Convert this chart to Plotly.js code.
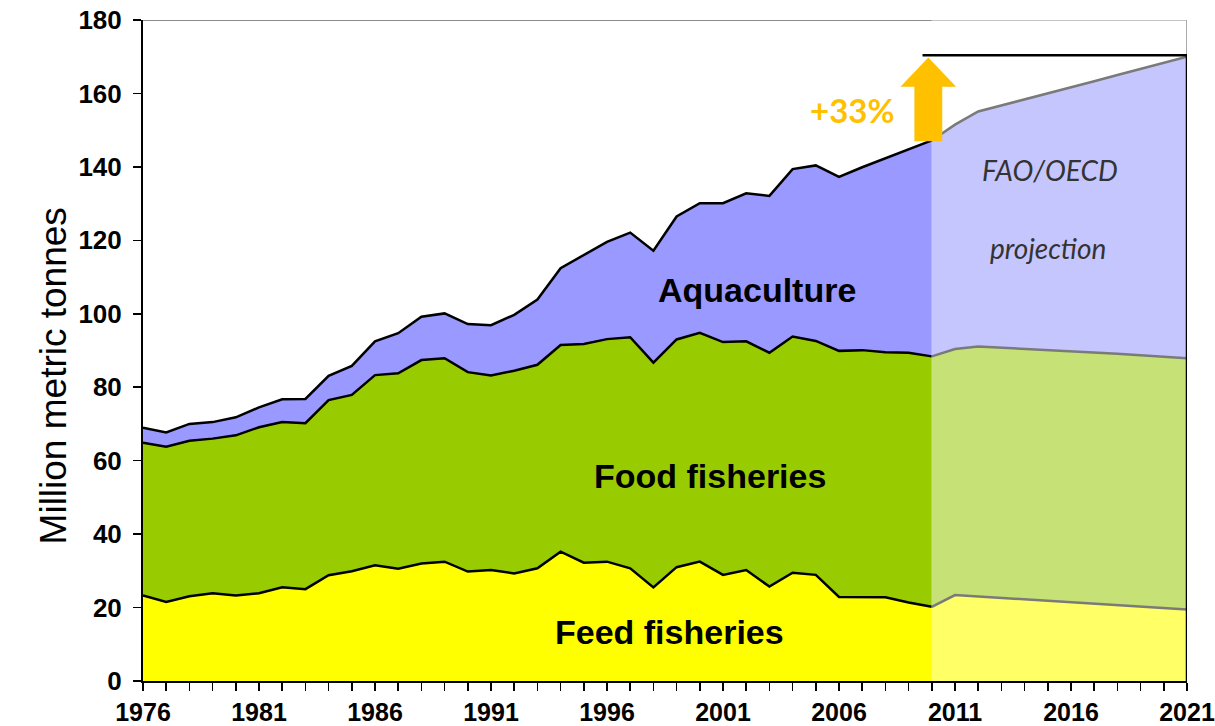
<!DOCTYPE html>
<html>
<head>
<meta charset="utf-8">
<script src="https://cdn.plot.ly/plotly-3.0.1.min.js"></script>
<style>html,body{margin:0;padding:0;background:#fff;}#chart{width:1215px;height:726px;}</style>
</head>
<body>
<div id="chart"></div>
<script>
// Historical data 1976-2010 (million metric tonnes)
const histYears = [1976,1977,1978,1979,1980,1981,1982,1983,1984,1985,1986,1987,1988,1989,1990,1991,1992,1993,1994,1995,1996,1997,1998,1999,2000,2001,2002,2003,2004,2005,2006,2007,2008,2009,2010];
const feedFisheries = [23.3,21.5,23.1,23.9,23.3,23.9,25.5,25.0,28.8,29.9,31.5,30.6,32.0,32.5,29.8,30.2,29.3,30.7,35.2,32.2,32.5,30.7,25.5,31.0,32.5,28.9,30.2,25.7,29.5,28.9,22.9,22.9,22.8,21.4,20.2];
const foodFisheries = [41.6,42.3,42.3,42.1,43.6,45.2,45.0,45.2,47.7,48.0,51.8,53.2,55.4,55.4,54.3,53.0,55.2,55.4,56.3,59.6,60.6,62.9,61.2,62.0,62.3,63.4,62.3,63.7,64.3,63.7,67.0,67.2,66.7,68.0,68.2];
const aquaculture = [4.1,3.9,4.6,4.5,4.9,5.4,6.2,6.6,6.6,7.9,9.2,10.9,11.8,12.2,13.1,13.7,15.2,17.8,20.9,24.2,26.5,28.5,30.5,33.5,35.3,37.8,40.3,42.7,45.6,47.8,47.4,49.8,52.9,55.5,58.8];

// FAO/OECD projection 2010-2021
const projYears = [2010,2011,2012,2013,2014,2015,2016,2017,2018,2019,2020,2021];
const projFeed = [20.2,23.4,23.0,22.6,22.2,21.8,21.4,21.1,20.7,20.3,19.9,19.5];
const projFood = [68.2,67.0,68.1,68.2,68.3,68.4,68.5,68.4,68.4,68.4,68.4,68.4];
const projAqua = [58.8,61.1,64.0,65.9,67.9,69.8,71.8,73.8,75.9,77.9,80.0,82.1];

const xTickLabels = ['1976','1981','1986','1991','1996','2001','2006','2011','2016','2021'];

const histLine = {color:'#000000', width:2.5};
const projLine = {color:'#7a7a7a', width:2.5};

const traces = [
  {x:histYears, y:feedFisheries, name:'Feed fisheries', stackgroup:'hist', mode:'lines', line:histLine, fillcolor:'#FFFF00'},
  {x:histYears, y:foodFisheries, name:'Food fisheries', stackgroup:'hist', mode:'lines', line:histLine, fillcolor:'#99CC00'},
  {x:histYears, y:aquaculture, name:'Aquaculture', stackgroup:'hist', mode:'lines', line:histLine, fillcolor:'#9999FF'},
  {x:projYears, y:projFeed, name:'Feed (proj)', stackgroup:'proj', mode:'lines', line:projLine, fillcolor:'#FFFF66'},
  {x:projYears, y:projFood, name:'Food (proj)', stackgroup:'proj', mode:'lines', line:projLine, fillcolor:'#C6E175'},
  {x:projYears, y:projAqua, name:'Aqua (proj)', stackgroup:'proj', mode:'lines', line:projLine, fillcolor:'#C6C6FF'}
];

const arial = 'Arial, "Liberation Sans", sans-serif';
const labelFont = {family:arial, size:34, color:'#000', weight:'bold'};
const ax = 2009.85;
const layout = {
  width:1215, height:726,
  margin:{l:143, r:28, t:20, b:45},
  paper_bgcolor:'#fff', plot_bgcolor:'#fff',
  showlegend:false,
  xaxis:{
    range:[1976,2021], tickmode:'array',
    tickvals:xTickLabels.map(Number), ticktext:xTickLabels,
    ticks:'outside', ticklen:8, tickwidth:1.5, tickcolor:'#000',
    ticklabelstandoff:0,
    minor:{tickmode:'linear', tick0:1976, dtick:1, ticks:'outside', ticklen:8, tickwidth:1.5, tickcolor:'#000', showgrid:false},
    showline:true, linecolor:'#000', linewidth:2, showgrid:false, zeroline:false,
    tickfont:{family:arial, size:25, color:'#000', weight:'bold'}
  },
  yaxis:{
    range:[0,180], tickmode:'linear', tick0:0, dtick:20,
    ticks:'outside', ticklen:8, tickwidth:1.5, tickcolor:'#000',
    ticklabelstandoff:6,
    showline:true, linecolor:'#000', linewidth:2, showgrid:false, zeroline:false,
    tickfont:{family:arial, size:26, color:'#000', weight:'bold'}
  },
  shapes:[
    {type:'line', xref:'x', yref:'y', x0:1976, x1:2010, y0:180, y1:180, line:{color:'#8c8c8c', width:2}},
    {type:'line', xref:'x', yref:'y', x0:2010, x1:2021, y0:180, y1:180, line:{color:'#c4c4c4', width:2}},
    {type:'line', xref:'x', yref:'y', x0:2021, x1:2021, y0:170.4, y1:180, line:{color:'#aaaaaa', width:2}},
    {type:'line', xref:'x', yref:'y', x0:2021, x1:2021, y0:0, y1:170.4, line:{color:'#000', width:2.5}},
    {type:'line', xref:'x', yref:'y', x0:2009.6, x1:2021, y0:170.4, y1:170.4, line:{color:'#000', width:2.5}},
    {type:'path', xref:'x', yref:'y', layer:'above',
     path:`M ${ax-0.6} 147 L ${ax+0.6} 147 L ${ax+0.6} 161.8 L ${ax+1.2} 161.8 L ${ax} 169.8 L ${ax-1.2} 161.8 L ${ax-0.6} 161.8 Z`,
     fillcolor:'#FFC000', line:{width:0}}
  ],
  annotations:[
    {x:-0.107, y:0.462, xref:'paper', yref:'paper', text:'Million metric tonnes', textangle:-90, showarrow:false,
     font:{family:arial, size:37, color:'#000'}},
    {x:2002.45, y:106.5, xref:'x', yref:'y', text:'Aquaculture', showarrow:false, font:labelFont},
    {x:2000.45, y:55.8, xref:'x', yref:'y', text:'Food fisheries', showarrow:false, font:labelFont},
    {x:1998.7, y:13.3, xref:'x', yref:'y', text:'Feed fisheries', showarrow:false, font:labelFont},
    {x:2006.55, y:155.5, xref:'x', yref:'y', text:'+33%', showarrow:false, font:{family:'Lato, "Open Sans", sans-serif', size:33, color:'#FFC000', weight:'bold'}},
    {x:2015.1, y:139.2, xref:'x', yref:'y', text:'<i>FAO/OECD</i>', showarrow:false, font:{family:'Lato, "Open Sans", sans-serif', size:28, color:'#333333'}},
    {x:2015.0, y:117.9, xref:'x', yref:'y', text:'<i>projection</i>', showarrow:false, font:{family:'Lato, "Open Sans", sans-serif', size:28, color:'#333333'}}
  ]
};

Plotly.newPlot('chart', traces, layout, {displayModeBar:false, staticPlot:true});
</script>
</body>
</html>
